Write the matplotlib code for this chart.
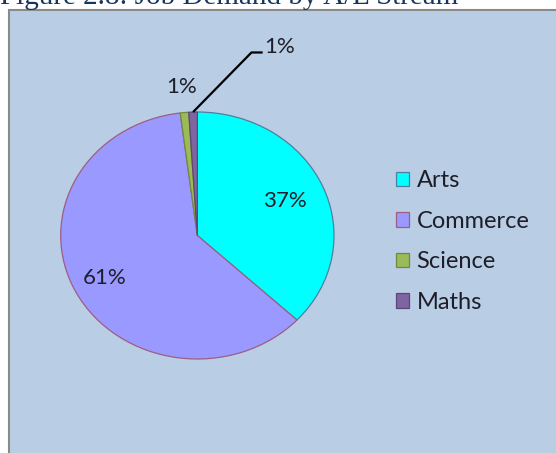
import numpy as np
import matplotlib
matplotlib.use("Agg")
import matplotlib.pyplot as plt
from matplotlib.patches import Rectangle

# job demand share by A/L stream (%)
streams = ["Arts", "Commerce", "Science", "Maths"]
shares = [37, 61, 1, 1]
fills = ["#00FFFF", "#9999FF", "#9BBB59", "#8064A2"]
edges = ["#4F7FA0", "#9E5E82", "#71893F", "#5C4776"]

plt.rcParams["font.family"] = ["Lato", "DejaVu Sans"]
text_col = "#1E1E28"

fig = plt.figure(figsize=(5.56, 4.53), dpi=100, facecolor="white")

# light blue chart area with grey border, kept behind the axes
fig.patches.append(Rectangle((9 / 556, -0.01), 1.0, 1 - 10 / 453 + 0.01,
                             transform=fig.transFigure, facecolor="#B9CDE5",
                             edgecolor="#8A8A8A", linewidth=1.5, zorder=-5))

# heading (its top is cut off by the figure edge)
fig.text(0.0, 1 - 4.5 / 453, "Figure 2.8: Job Demand by A/L Stream",
         family="Liberation Serif", fontsize=21, color="#17365D",
         ha="left", va="baseline")

# axes sized so the pie comes out slightly flattened
ax = fig.add_axes([60.7 / 556, (453 - 359) / 453, 273.3 / 556, 247 / 453])
ax.set_zorder(2)
ax.set_facecolor("none")
wedges, _ = ax.pie(shares, colors=fills, startangle=90, counterclock=False,
                   radius=1.0, frame=False,
                   wedgeprops=dict(linewidth=0.9))
for w, ec in zip(wedges, edges):
    w.set_edgecolor(ec)
ax.set_aspect("auto")
ax.set_xlim(-1, 1)
ax.set_ylim(-1, 1)
ax.axis("off")

# percentage labels at each slice's mid angle
label_dist = [0.70, 0.76, 1.21, None]
for w, val, d in zip(wedges, shares, label_dist):
    if d is None:
        continue
    th = np.deg2rad((w.theta1 + w.theta2) / 2)
    ax.text(d * np.cos(th), d * np.sin(th), f"{val}%", fontsize=16,
            color=text_col, ha="center", va="center", clip_on=False)

# Maths label pulled out with an elbow leader line
w = wedges[3]
th = np.deg2rad((w.theta1 + w.theta2) / 2)
ax.plot([np.cos(th), 0.396, 0.478], [np.sin(th), 1.482, 1.482],
        color="black", linewidth=1.6, clip_on=False, solid_capstyle="butt")
ax.text(0.49, 1.53, f"{shares[3]}%", fontsize=16, color=text_col,
        ha="left", va="center", clip_on=False)

fig.legend(wedges, streams, loc="center left",
           bbox_to_anchor=(395.7 / 556, 1 - 241.5 / 453),
           frameon=False, fontsize=17, labelcolor=text_col,
           handlelength=0.58, handleheight=0.58, handletextpad=0.3,
           labelspacing=0.82, borderpad=0, borderaxespad=0)

fig.savefig("out.png", dpi=100, facecolor="white")
